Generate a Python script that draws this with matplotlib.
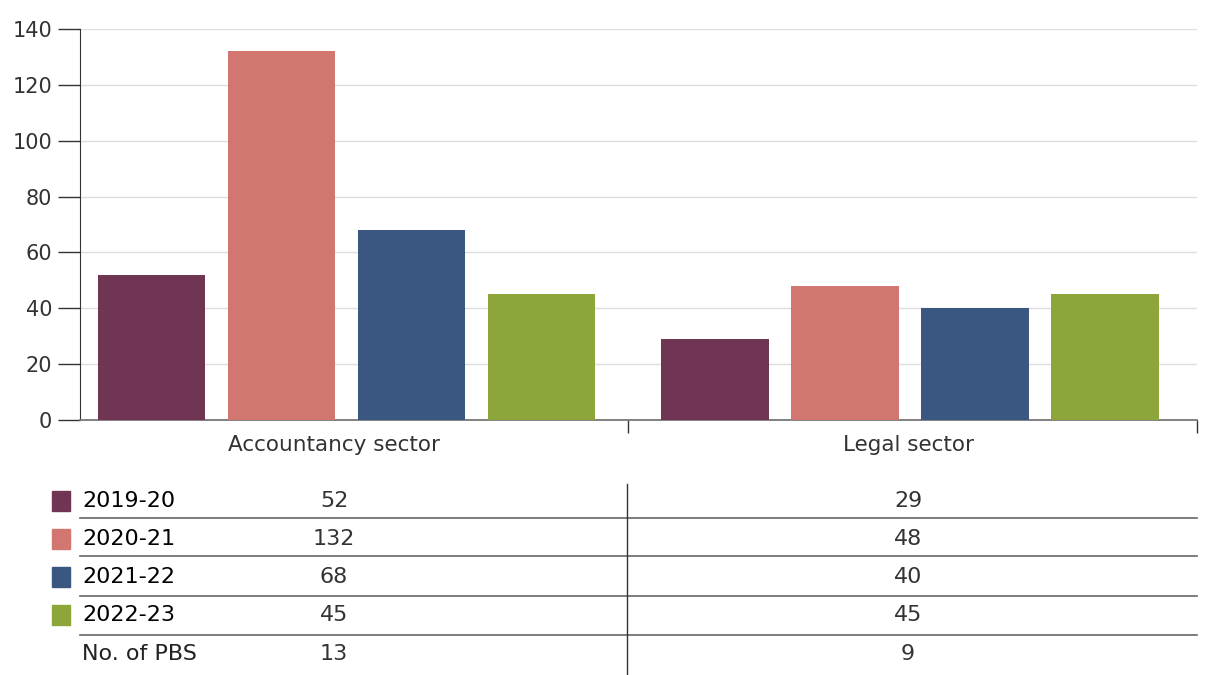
import matplotlib.pyplot as plt
from matplotlib.lines import Line2D
from matplotlib.patches import Rectangle

sectors = ["Accountancy sector", "Legal sector"]
years = ["2019-20", "2020-21", "2021-22", "2022-23"]
accountancy = [52, 132, 68, 45]
legal = [29, 48, 40, 45]
pbs_count = [13, 9]
colors = ["#6F3553", "#D27770", "#3A5782", "#8CA63A"]

plt.rcParams["font.family"] = ["DejaVu Sans"]

W, H = 1205, 675
fig = plt.figure(figsize=(W / 100, H / 100), dpi=100)
ax = fig.add_axes([80 / W, 1 - 420 / H, (1197 - 80) / W, (420 - 29) / H])

step = 0.2305
width = 0.19
series = list(zip(accountancy, legal))
for i, vals in enumerate(series):
    offs = (i - 1.5) * step
    ax.bar([0 + offs, 1 + offs], vals, width=width, color=colors[i], zorder=3)

ax.set_xlim(-0.472, 1.509)
ax.set_ylim(0, 140)
ax.set_yticks(range(0, 141, 20))
ax.grid(axis="y", color="#dddddd", linewidth=1, zorder=0)
ax.tick_params(axis="y", length=16, width=1, color="#333333", labelsize=15,
               labelcolor="#333333", pad=4)

# sector labels sit a little left of the bar group centre in the original
ax.set_xticks([-0.021, 0.998])
ax.set_xticklabels(sectors, fontsize=15.5, color="#333333")
ax.tick_params(axis="x", which="major", length=0, pad=11)
ax.set_xticks([0.5, 1.509], minor=True)
ax.tick_params(axis="x", which="minor", length=9, width=1, color="#333333")

for s in ["top", "right"]:
    ax.spines[s].set_visible(False)
ax.spines["left"].set_color("#333333")
ax.spines["bottom"].set_color("#777777")
ax.spines["bottom"].set_linewidth(1.3)

# table below the chart
def fx(px):
    return px / W

def fy(py):
    return 1 - py / H

row_y = [501, 539, 577, 615, 654]
line_y = [518, 556, 596, 635]
col_x = [334, 908]

for ly in line_y:
    fig.add_artist(Line2D([fx(80), fx(1197)], [fy(ly), fy(ly)], color="#666666", lw=1.2))
fig.add_artist(Line2D([fx(627), fx(627)], [fy(484), fy(675)], color="#333333", lw=1))

rows = [(years[i], [accountancy[i], legal[i]], colors[i]) for i in range(4)]
rows.append(("No. of PBS", pbs_count, None))
for (label, vals, c), ry in zip(rows, row_y):
    if c is not None:
        fig.add_artist(Rectangle((fx(52), fy(ry + 10)), 18 / W, 20 / H,
                                 transform=fig.transFigure, color=c))
    fig.text(fx(82), fy(ry), label, fontsize=16,
             color="#000000" if c is not None else "#222222",
             va="center", ha="left")
    for v, cx in zip(vals, col_x):
        fig.text(fx(cx), fy(ry), str(v), fontsize=16, color="#333333",
                 va="center", ha="center")

fig.savefig("out.png", dpi=100)
